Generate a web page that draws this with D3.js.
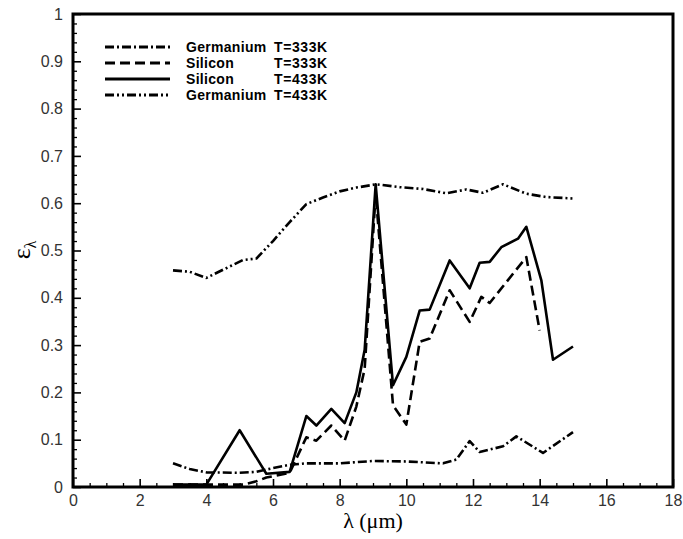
<!DOCTYPE html>
<html>
<head>
<meta charset="utf-8">
<style>
  body { margin: 0; background: #fff; }
</style>
</head>
<body>
<svg id="chart" width="683" height="539"></svg>
<script src="https://d3js.org/d3.v7.min.js"></script>
<script>
// tick values
const xTicks = [0, 2, 4, 6, 8, 10, 12, 14, 16, 18];
const yTicks = [0, 0.1, 0.2, 0.3, 0.4, 0.5, 0.6, 0.7, 0.8, 0.9, 1];
const yTickLabels = ["0", "0.1", "0.2", "0.3", "0.4", "0.5", "0.6", "0.7", "0.8", "0.9", "1"];

// Germanium T=333K
const ge333X = [3, 3.5, 4, 5, 5.5, 6, 6.5, 7, 8, 9, 10, 11.1, 11.5, 11.9, 12.2, 12.9, 13.3, 14.1, 15];
const ge333Y = [0.05, 0.038, 0.031, 0.03, 0.032, 0.04, 0.047, 0.05, 0.05, 0.055, 0.054, 0.05, 0.058, 0.097, 0.074, 0.086, 0.107, 0.072, 0.116];

// Silicon T=333K
const si333X = [3, 4, 5.1, 5.5, 5.8, 6.5, 7, 7.3, 7.75, 8.15, 8.5, 8.75, 9.08, 9.6, 10, 10.4, 10.7, 11.3, 11.9, 12.25, 12.5, 13.6, 14];
const si333Y = [0.005, 0.005, 0.005, 0.012, 0.02, 0.03, 0.105, 0.098, 0.13, 0.098, 0.17, 0.25, 0.62, 0.173, 0.132, 0.307, 0.314, 0.416, 0.349, 0.402, 0.389, 0.486, 0.331];

// Silicon T=433K
const si433X = [3, 4, 5, 5.8, 6.5, 7, 7.3, 7.75, 8.15, 8.5, 8.75, 9.08, 9.6, 10, 10.4, 10.7, 11.3, 11.9, 12.2, 12.5, 12.85, 13.35, 13.6, 14.05, 14.4, 15];
const si433Y = [0.005, 0.005, 0.12, 0.028, 0.032, 0.15, 0.13, 0.165, 0.135, 0.2, 0.29, 0.64, 0.215, 0.275, 0.373, 0.375, 0.479, 0.42, 0.474, 0.476, 0.507, 0.525, 0.55, 0.437, 0.269, 0.297];

// Germanium T=433K
const ge433X = [3, 3.5, 4, 5.1, 5.5, 6, 6.5, 7, 7.5, 8, 8.5, 9.1, 9.8, 10.5, 11.2, 11.8, 12.3, 12.9, 13.6, 14.2, 15];
const ge433Y = [0.458, 0.455, 0.442, 0.48, 0.483, 0.52, 0.56, 0.598, 0.612, 0.625, 0.633, 0.64, 0.634, 0.63, 0.621, 0.629, 0.622, 0.64, 0.62, 0.613, 0.61];

const legendNames = ["Germanium", "Silicon", "Silicon", "Germanium"];
const legendTemps = ["T=333K", "T=333K", "T=433K", "T=433K"];

const series = [
  { xs: ge333X, ys: ge333Y, dash: "9,3,2,3" },
  { xs: si333X, ys: si333Y, dash: "10,5" },
  { xs: si433X, ys: si433Y, dash: null },
  { xs: ge433X, ys: ge433Y, dash: "9,3,2,3,2,3" }
];

const sans = "Arial, 'Liberation Sans', sans-serif";
const serif = "'Liberation Serif', 'Times New Roman', serif";

const plotLeft = 73, plotRight = 673, plotTop = 14, plotBottom = 487;
const svg = d3.select("#chart");

const x = d3.scaleLinear().domain([0, 18]).range([plotLeft, plotRight]);
const y = d3.scaleLinear().domain([0, 1]).range([plotBottom, plotTop]);

svg.append("clipPath").attr("id", "plotclip")
  .append("rect").attr("x", plotLeft).attr("y", plotTop)
  .attr("width", plotRight - plotLeft).attr("height", plotBottom - plotTop);

// curves
const line = d3.line().x(d => x(d[0])).y(d => y(d[1]));
svg.append("g").attr("clip-path", "url(#plotclip)")
  .selectAll("path")
  .data(series)
  .enter()
  .append("path")
  .attr("d", s => line(s.xs.map((v, i) => [v, s.ys[i]])))
  .attr("fill", "none")
  .attr("stroke", "#000")
  .attr("stroke-width", 2.6)
  .attr("stroke-linejoin", "round")
  .attr("stroke-dasharray", s => s.dash);

// minor ticks
const xMinor = d3.range(0, 18.001, 0.5).filter(v => Math.abs(v / 2 - Math.round(v / 2)) > 1e-6);
const yMinor = d3.range(0, 1.0001, 0.02).filter(v => Math.abs(v * 10 - Math.round(v * 10)) > 1e-6);

svg.append("g").attr("transform", `translate(0,${plotBottom})`)
  .call(d3.axisBottom(x).tickValues(xMinor).tickSize(-4).tickFormat(""))
  .call(g => g.select(".domain").remove())
  .selectAll("line").attr("stroke-width", 1.3);

svg.append("g").attr("transform", `translate(${plotLeft},0)`)
  .call(d3.axisLeft(y).tickValues(yMinor).tickSize(-4).tickFormat(""))
  .call(g => g.select(".domain").remove())
  .selectAll("line").attr("stroke-width", 1.3);

// major ticks and labels
const xAxis = svg.append("g").attr("transform", `translate(0,${plotBottom})`)
  .call(d3.axisBottom(x).tickValues(xTicks).tickSize(-8).tickPadding(8).tickFormat(d3.format("d")));
xAxis.select(".domain").remove();
xAxis.selectAll("line").attr("stroke-width", 1.6);
xAxis.selectAll("text").attr("fill", "#333")
  .style("font-family", sans).style("font-size", "16px");

const yAxis = svg.append("g").attr("transform", `translate(${plotLeft},0)`)
  .call(d3.axisLeft(y).tickValues(yTicks).tickSize(-8).tickPadding(10)
    .tickFormat((d, i) => yTickLabels[i]));
yAxis.select(".domain").remove();
yAxis.selectAll("line").attr("stroke-width", 1.6);
yAxis.selectAll("text").attr("fill", "#333")
  .style("font-family", sans).style("font-size", "16px");

// frame
svg.append("rect")
  .attr("x", plotLeft).attr("y", plotTop)
  .attr("width", plotRight - plotLeft).attr("height", plotBottom - plotTop)
  .attr("fill", "none").attr("stroke", "#000").attr("stroke-width", 3);

// axis titles
svg.append("text")
  .attr("x", (plotLeft + plotRight) / 2).attr("y", 528)
  .attr("text-anchor", "middle")
  .style("font-family", serif)
  .style("font-size", "22px")
  .text("\u03bb (\u03bcm)");

const yl = svg.append("text")
  .attr("transform", "translate(30,250) rotate(-90)")
  .attr("text-anchor", "middle")
  .style("font-family", serif)
  .style("font-size", "26px");
yl.append("tspan").text("\u03b5");
yl.append("tspan").style("font-size", "16px").attr("dy", 6).text("\u03bb");

// legend
const legend = svg.append("g");
const rowY = [47, 63, 79, 95];
legend.selectAll("line")
  .data(series)
  .enter()
  .append("line")
  .attr("x1", 105).attr("x2", 170)
  .attr("y1", (d, i) => rowY[i]).attr("y2", (d, i) => rowY[i])
  .attr("stroke", "#000").attr("stroke-width", 3)
  .attr("stroke-dasharray", d => d.dash);
legend.selectAll("text.name")
  .data(legendNames)
  .enter()
  .append("text")
  .attr("class", "name")
  .attr("x", 186).attr("y", (d, i) => rowY[i] + 5)
  .style("font-family", sans).style("font-size", "14px")
  .style("font-weight", "bold").style("letter-spacing", "0.3px")
  .text(d => d);
legend.selectAll("text.temp")
  .data(legendTemps)
  .enter()
  .append("text")
  .attr("class", "temp")
  .attr("x", 274).attr("y", (d, i) => rowY[i] + 5)
  .style("font-family", sans).style("font-size", "14px")
  .style("font-weight", "bold").style("letter-spacing", "0.6px")
  .text(d => d);
</script>
</body>
</html>
